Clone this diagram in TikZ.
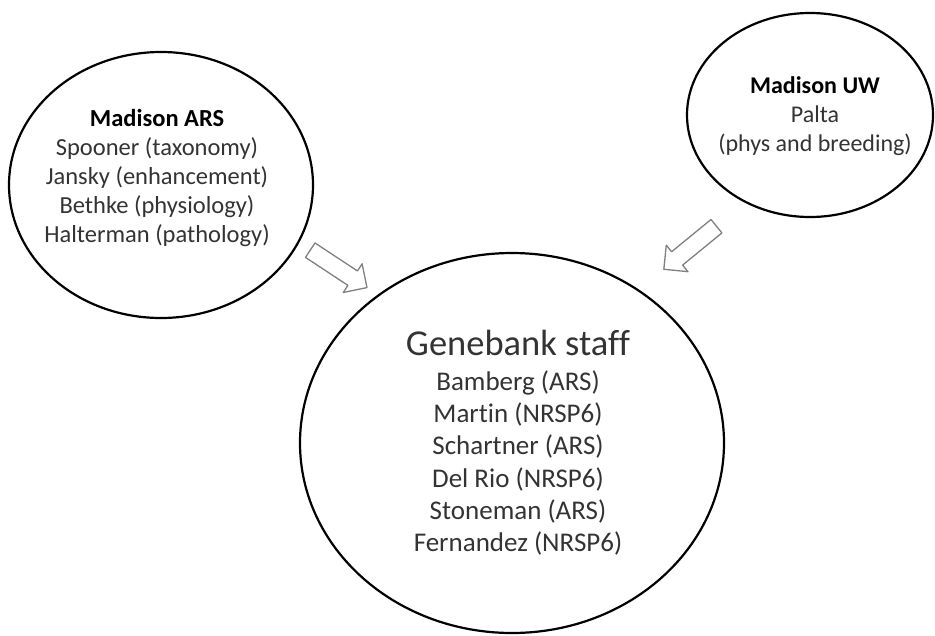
\documentclass[tikz,border=0pt]{standalone}
\usepackage{fontspec}
\setmainfont{Carlito}[Ligatures=NoCommon]
\usetikzlibrary{shapes.geometric,shapes.arrows}
\begin{document}
\begin{tikzpicture}[x=1pt,y=-1pt,line join=round,
    group/.style={ellipse,draw=black,line width=2.2pt,inner sep=0pt},
    names/.style={align=center,text=black!80,inner sep=0pt},
    feed/.style={single arrow,draw=black!50,line width=1.3pt,fill=white,minimum height=68pt,
      inner sep=8pt,single arrow head extend=8.5pt}]
	\useasboundingbox (0,0) rectangle (935,635);
	% the three groups
	\node[group,minimum width=304pt,minimum height=266pt] (ars) at (161,185) {};
	\node[group,minimum width=246pt,minimum height=204pt] (uw) at (810,115) {};
	\node[group,minimum width=424pt,minimum height=380pt] (staff) at (512,443) {};
	\node[names,font=\fontsize{24.5}{28.8}\selectfont] (arsnames) at (157,178)
		{\textbf{\color{black}Madison ARS}\\Spooner (taxonomy)\\Jansky (enhancement)\\Bethke (physiology)\\Halterman (pathology)};
	\node[names,font=\fontsize{24}{29}\selectfont] (uwnames) at (815,116)
		{\textbf{\color{black}Madison UW}\\Palta\\(phys and breeding)};
	\node[names,font=\fontsize{27}{32.3}\selectfont] (staffnames) at (518,443)
		{{\fontsize{36.5}{38}\selectfont Genebank staff}\\[2pt]Bamberg (ARS)\\Martin (NRSP6)\\Schartner (ARS)\\Del Rio (NRSP6)\\Stoneman (ARS)\\Fernandez (NRSP6)};
	% block arrows towards the genebank
	\node[feed,rotate=-33.4] (arsin) at (335,266.5) {};
	\node[feed,rotate=-140.7] (uwin) at (693.5,245) {};
\end{tikzpicture}
\end{document}
